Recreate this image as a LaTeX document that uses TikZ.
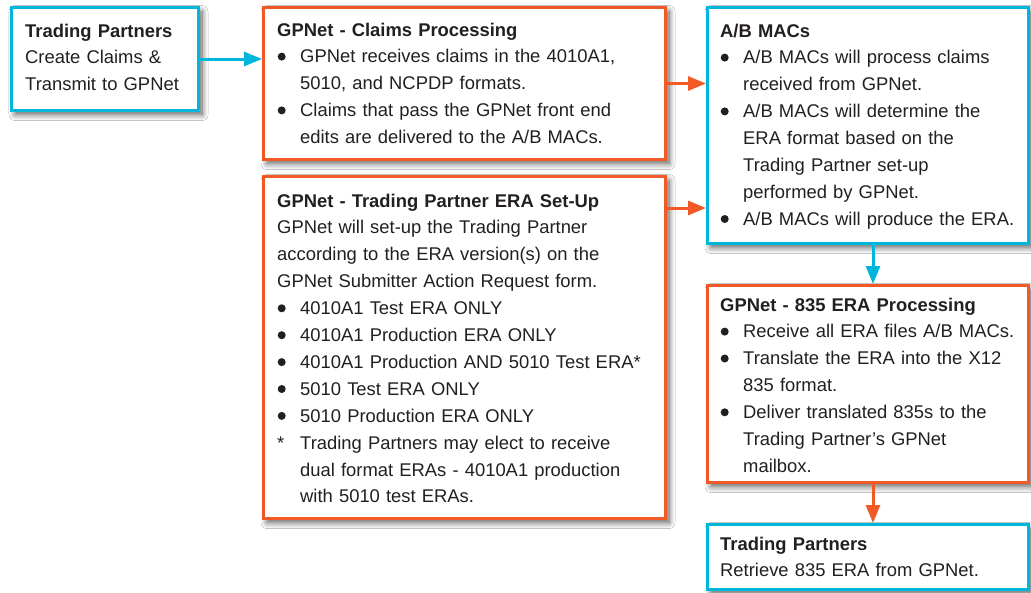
\documentclass[tikz,border=0pt]{standalone}
\usepackage{fontspec}
\setmainfont{Liberation Sans}
\usetikzlibrary{arrows.meta,shadows.blur}
\definecolor{cyanc}{RGB}{0,182,218}
\definecolor{orangec}{RGB}{241,90,36}
\definecolor{txtc}{RGB}{35,31,32}
\newcommand\bu{\makebox[23pt][l]{\hspace{0.5pt}\tikz[baseline=0pt]\fill[txtc] (4pt,6.3pt) circle[radius=4pt];}}
\newcommand\ind{\hspace*{23pt}}
\tikzset{
  box/.style={draw, line width=3pt, fill=white, anchor=north west, inner sep=0pt,
    blur shadow={shadow xshift=3.5pt, shadow yshift=-4pt, shadow blur radius=6pt,
      shadow blur steps=10, shadow opacity=65}},
  bluebox/.style={box, draw=cyanc},
  orbox/.style={box, draw=orangec},
  txt/.style={anchor=base west, inner sep=0pt, text width=400pt, align=left,
    text=txtc, font=\fontsize{18.4}{26.9}\selectfont},
  conn/.style={line width=3pt, -{Triangle[length=18pt,width=14pt]}},
  carrow/.style={conn, draw=cyanc, fill=cyanc},
  oarrow/.style={conn, draw=orangec, fill=orangec},
}
\begin{document}
\begin{tikzpicture}[x=1pt,y=-1pt]
\useasboundingbox[fill=white] (0,0) rectangle (1031,592);

% boxes (outer edges)
\node[bluebox, minimum width=187pt, minimum height=103pt] (tp1) at (10,6) {};
\node[orbox, minimum width=402pt, minimum height=152pt] (claims) at (262,6) {};
\node[orbox, minimum width=402pt, minimum height=342pt] (era) at (262,175) {};
\node[bluebox, minimum width=321pt, minimum height=236pt] (ab) at (706,6) {};
\node[orbox, minimum width=321pt, minimum height=197pt] (p835) at (706,284) {};
\node[bluebox, minimum width=321pt, minimum height=65pt] (tp2) at (706,523) {};

% texts
\node[txt] (tp1t) at ([shift={(15,31)}]tp1.north west) {\textbf{Trading Partners}\\
Create Claims \&\\
Transmit to GPNet};

\node[txt] (claimst) at ([shift={(15,30)}]claims.north west) {\textbf{GPNet - Claims Processing}\\
\bu GPNet receives claims in the 4010A1,\\
\ind 5010, and NCPDP formats.\\
\bu Claims that pass the GPNet front end\\
\ind edits are delivered to the A/B MACs.};

\node[txt] (abt) at ([shift={(14,31)}]ab.north west) {\textbf{A/B MACs}\\
\bu A/B MACs will process claims\\
\ind received from GPNet.\\
\bu A/B MACs will determine the\\
\ind ERA format based on the\\
\ind Trading Partner set-up\\
\ind performed by GPNet.\\
\bu A/B MACs will produce the ERA.};

\node[txt] (erat) at ([shift={(15,32)}]era.north west) {\textbf{GPNet - Trading Partner ERA Set-Up}\\
GPNet will set-up the Trading Partner\\
according to the ERA version(s) on the\\
GPNet Submitter Action Request form.\\
\bu 4010A1 Test ERA ONLY\\
\bu 4010A1 Production ERA ONLY\\
\bu 4010A1 Production AND 5010 Test ERA*\\
\bu 5010 Test ERA ONLY\\
\bu 5010 Production ERA ONLY\\
\makebox[23pt][l]{*}Trading Partners may elect to receive\\
\ind dual format ERAs - 4010A1 production\\
\ind with 5010 test ERAs.};

\node[txt] (p835t) at ([shift={(14,27)}]p835.north west) {\textbf{GPNet - 835 ERA Processing}\\
\bu Receive all ERA files A/B MACs.\\
\bu Translate the ERA into the X12\\
\ind 835 format.\\
\bu Deliver translated 835s to the\\
\ind Trading Partner’s GPNet\\
\ind mailbox.};

\node[txt] (tp2t) at ([shift={(14,27)}]tp2.north west) {\textbf{Trading Partners}\\
Retrieve 835 ERA from GPNet.};

% connectors
\draw[carrow] (tp1.east) -- (claims.west |- tp1.east);
\draw[oarrow] (claims.east) -- (ab.west |- claims.east);
\coordinate (e1) at ([yshift=-33pt]era.north east);
\draw[oarrow] (e1) -- (e1 -| ab.west);
\coordinate (a1) at ([xshift=167pt]ab.south west);
\draw[carrow] (a1) -- (a1 |- p835.north);
\coordinate (a2) at ([xshift=167pt]p835.south west);
\draw[oarrow] (a2) -- (a2 |- tp2.north);
\end{tikzpicture}
\end{document}
